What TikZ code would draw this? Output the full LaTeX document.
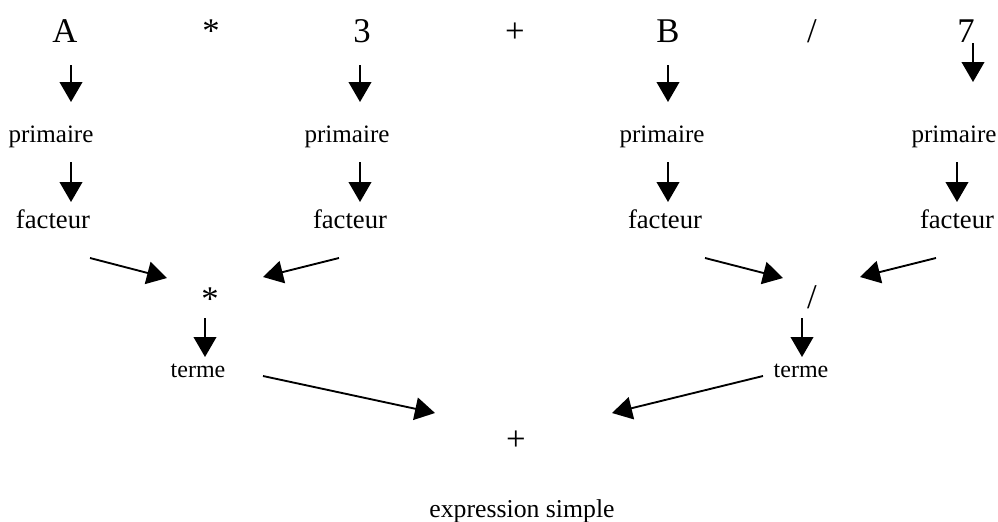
\documentclass[tikz,border=0pt]{standalone}
\usepackage{fontspec}
\setmainfont{Liberation Serif}
\usetikzlibrary{arrows.meta}
\tikzset{
  sym/.style={inner sep=0pt, anchor=base, font=\fontsize{26pt}{30pt}\selectfont},
  prim/.style={inner sep=0pt, anchor=base, font=\fontsize{18.8pt}{22pt}\selectfont},
  fact/.style={inner sep=0pt, anchor=base, font=\fontsize{20pt}{24pt}\selectfont},
  trm/.style={inner sep=0pt, anchor=base, font=\fontsize{18pt}{22pt}\selectfont},
  expr/.style={inner sep=0pt, anchor=base, font=\fontsize{19.3pt}{23pt}\selectfont},
  arr/.style={line width=1.4pt, -{Triangle[length=15pt,width=17pt]}}
}
\begin{document}
\begin{tikzpicture}[x=0.75pt,y=-0.75pt]
\useasboundingbox (0,0) rectangle (998,521);
% top row
\node[sym] (tA) at (65,42) {A};
\node[sym] (tmul) at (211,42) {*};
\node[sym] (t3) at (362,42) {3};
\node[sym] (tplus) at (515,42) {+};
\node[sym] (tB) at (668,42) {B};
\node[sym] (tdiv) at (812,42) {/};
\node[sym] (t7) at (966,42) {7};
% primaire
\node[prim] (p1) at (51,142) {primaire};
\node[prim] (p2) at (347,142) {primaire};
\node[prim] (p3) at (662,142) {primaire};
\node[prim] (p4) at (954,142) {primaire};
% facteur
\node[fact] (f1) at (53,228) {facteur};
\node[fact] (f2) at (350,228) {facteur};
\node[fact] (f3) at (665,228) {facteur};
\node[fact] (f4) at (957,228) {facteur};
% operators
\node[sym] (mmul) at (210,310) {*};
\node[sym] (mdiv) at (812,308) {/};
% terme
\node[trm] (t1) at (198,377) {terme};
\node[trm] (t2) at (801,377) {terme};
% bottom
\node[sym] (bplus) at (516,450) {+};
\node[expr] (es) at (522,517) {expression simple};
% arrow end points
\coordinate (a1s) at (71,65);  \coordinate (a1e) at (71,102);
\coordinate (a2s) at (360,65); \coordinate (a2e) at (360,102);
\coordinate (a3s) at (668,65); \coordinate (a3e) at (668,102);
\coordinate (a4s) at (973,43); \coordinate (a4e) at (973,82);
\coordinate (b1s) at (71,162);  \coordinate (b1e) at (71,202);
\coordinate (b2s) at (360,162); \coordinate (b2e) at (360,202);
\coordinate (b3s) at (668,162); \coordinate (b3e) at (668,202);
\coordinate (b4s) at (957,162); \coordinate (b4e) at (957,202);
\coordinate (c1s) at (90,258);  \coordinate (c1e) at (167,278);
\coordinate (c2s) at (339,258); \coordinate (c2e) at (263,277);
\coordinate (c3s) at (705,258); \coordinate (c3e) at (783,278);
\coordinate (c4s) at (936,258); \coordinate (c4e) at (860,277);
\coordinate (d1s) at (205,318); \coordinate (d1e) at (205,357);
\coordinate (d2s) at (802,318); \coordinate (d2e) at (802,357);
\coordinate (e1s) at (263,376); \coordinate (e1e) at (435,413);
\coordinate (e2s) at (763,376); \coordinate (e2e) at (612,413);
% arrows
\draw[arr] (a1s) -- (a1e);
\draw[arr] (a2s) -- (a2e);
\draw[arr] (a3s) -- (a3e);
\draw[arr] (a4s) -- (a4e);
\draw[arr] (b1s) -- (b1e);
\draw[arr] (b2s) -- (b2e);
\draw[arr] (b3s) -- (b3e);
\draw[arr] (b4s) -- (b4e);
\draw[arr] (c1s) -- (c1e);
\draw[arr] (c2s) -- (c2e);
\draw[arr] (c3s) -- (c3e);
\draw[arr] (c4s) -- (c4e);
\draw[arr] (d1s) -- (d1e);
\draw[arr] (d2s) -- (d2e);
\draw[arr] (e1s) -- (e1e);
\draw[arr] (e2s) -- (e2e);
\end{tikzpicture}
\end{document}
